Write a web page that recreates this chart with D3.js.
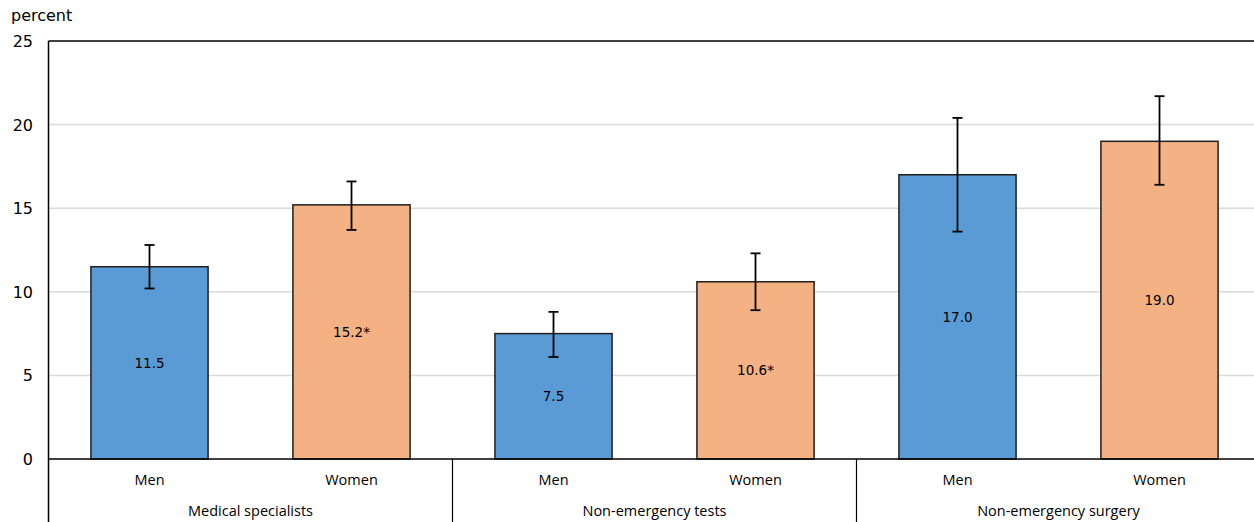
<!DOCTYPE html>
<html>
<head>
<meta charset="utf-8">
<script src="https://cdn.jsdelivr.net/npm/d3@7"></script>
<style>
  body { margin: 0; background: #fff; }
</style>
</head>
<body>
<div id="my_dataviz"></div>
<script>
// chart values
let groups = ["Medical specialists", "Non-emergency tests", "Non-emergency surgery"]
let sexes = ["Men", "Women"]
let men_values = [11.5, 7.5, 17.0]
let women_values = [15.2, 10.6, 19.0]
let men_labels = ["11.5", "7.5", "17.0"]
let women_labels = ["15.2*", "10.6*", "19.0"]
let men_low = [10.2, 6.1, 13.6]
let men_high = [12.8, 8.8, 20.4]
let women_low = [13.7, 8.9, 16.4]
let women_high = [16.6, 12.3, 21.7]
let y_ticks = [0, 5, 10, 15, 20, 25]

let colors = {"Men": "#5b9bd5", "Women": "#f4b183"}

let data = []
for (let i = 0; i < groups.length; i++) {
    data.push({group: groups[i], sex: "Men", value: men_values[i], label: men_labels[i], low: men_low[i], high: men_high[i]})
    data.push({group: groups[i], sex: "Women", value: women_values[i], label: women_labels[i], low: women_low[i], high: women_high[i]})
}

function bar_chart(){
    var width = 1254, height = 522
    var left = 48.5, top = 41, bottom = 459

    var svg = d3.select("#my_dataviz")
        .append("svg")
        .attr("width", width)
        .attr("height", height)

    var x0 = d3.scaleBand()
        .domain(groups)
        .range([left, left + 404 * 3])
        .padding(0)

    var x1 = d3.scaleBand()
        .domain(sexes)
        .range([0, x0.bandwidth()])
        .paddingInner(0.42)
        .paddingOuter(0.21)

    var y = d3.scaleLinear()
        .domain([0, 25])
        .range([bottom, top])

    // gridlines
    svg.append("g")
        .selectAll("line")
        .data(y_ticks.filter(function(d){ return d > 0 && d < 25 }))
        .enter()
        .append("line")
        .attr("x1", left)
        .attr("x2", width)
        .attr("y1", function(d){ return y(d) })
        .attr("y2", function(d){ return y(d) })
        .style("stroke", "#d9d9d9")
        .style("stroke-width", 1.5)

    // top border
    svg.append("line")
        .attr("x1", left).attr("x2", width)
        .attr("y1", y(25)).attr("y2", y(25))
        .style("stroke", "#000")
        .style("stroke-width", 1.5)

    // tick labels
    svg.append("g")
        .selectAll("text")
        .data(y_ticks)
        .enter()
        .append("text")
        .attr("x", 33)
        .attr("y", function(d){ return y(d) + 6 })
        .attr("text-anchor", "end")
        .style("font-family", "DejaVu Sans")
        .style("font-size", "16px")
        .style("fill", "#000")
        .text(function(d){ return d })

    svg.append("text")
        .attr("x", 11)
        .attr("y", 21)
        .style("font-family", "DejaVu Sans")
        .style("font-size", "16px")
        .text("percent")

    // bars
    var bars = svg.append("g")
        .selectAll("g")
        .data(data)
        .enter()
        .append("g")
        .attr("transform", function(d){ return "translate(" + (x0(d.group) + x1(d.sex)) + ",0)" })

    bars.append("rect")
        .attr("x", 0)
        .attr("y", function(d){ return y(d.value) })
        .attr("width", x1.bandwidth())
        .attr("height", function(d){ return y(0) - y(d.value) })
        .style("fill", function(d){ return colors[d.sex] })
        .style("stroke", "#1f1f1f")
        .style("stroke-width", 1.5)

    bars.append("text")
        .attr("x", x1.bandwidth() / 2)
        .attr("y", function(d){ return (y(d.value) + y(0)) / 2 + 5 })
        .attr("text-anchor", "middle")
        .style("font-family", "DejaVu Sans")
        .style("font-size", "13.5px")
        .style("fill", "#000")
        .text(function(d){ return d.label })

    // error bars
    var cx = x1.bandwidth() / 2
    bars.append("line")
        .attr("x1", cx).attr("x2", cx)
        .attr("y1", function(d){ return y(d.low) })
        .attr("y2", function(d){ return y(d.high) })
        .style("stroke", "#000")
        .style("stroke-width", 1.8)
    bars.append("line")
        .attr("x1", cx - 5).attr("x2", cx + 5)
        .attr("y1", function(d){ return y(d.low) })
        .attr("y2", function(d){ return y(d.low) })
        .style("stroke", "#000")
        .style("stroke-width", 1.8)
    bars.append("line")
        .attr("x1", cx - 5).attr("x2", cx + 5)
        .attr("y1", function(d){ return y(d.high) })
        .attr("y2", function(d){ return y(d.high) })
        .style("stroke", "#000")
        .style("stroke-width", 1.8)

    // x axis line
    svg.append("line")
        .attr("x1", left).attr("x2", width)
        .attr("y1", y(0)).attr("y2", y(0))
        .style("stroke", "#000")
        .style("stroke-width", 1.5)

    // y axis line
    svg.append("line")
        .attr("x1", left).attr("x2", left)
        .attr("y1", y(25)).attr("y2", height)
        .style("stroke", "#000")
        .style("stroke-width", 1.5)

    // group dividers
    svg.append("g")
        .selectAll("line")
        .data(groups.slice(1))
        .enter()
        .append("line")
        .attr("x1", function(d){ return x0(d) })
        .attr("x2", function(d){ return x0(d) })
        .attr("y1", y(0))
        .attr("y2", height)
        .style("stroke", "#000")
        .style("stroke-width", 1.2)

    // sex labels
    svg.append("g")
        .selectAll("text")
        .data(data)
        .enter()
        .append("text")
        .attr("x", function(d){ return x0(d.group) + x1(d.sex) + x1.bandwidth() / 2 })
        .attr("y", 485)
        .attr("text-anchor", "middle")
        .style("font-family", "Open Sans")
        .style("font-size", "14.5px")
        .style("fill", "#000")
        .text(function(d){ return d.sex })

    // group labels
    svg.append("g")
        .selectAll("text")
        .data(groups)
        .enter()
        .append("text")
        .attr("x", function(d){ return x0(d) + x0.bandwidth() / 2 })
        .attr("y", 516)
        .attr("text-anchor", "middle")
        .style("font-family", "Open Sans")
        .style("font-size", "14.5px")
        .style("fill", "#000")
        .text(function(d){ return d })
}

bar_chart()
</script>
</body>
</html>
